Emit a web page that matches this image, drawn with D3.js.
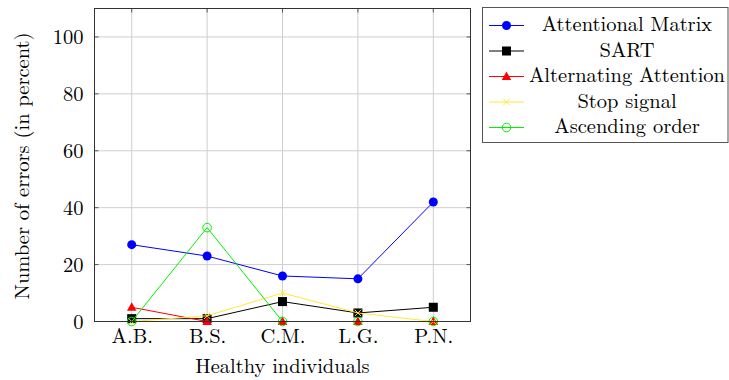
<!DOCTYPE html>
<html>
<head>
<meta charset="utf-8">
<script src="https://cdn.jsdelivr.net/npm/d3@7"></script>
<style>
  html, body { margin: 0; padding: 0; background: #fff; }
  svg { display: block; }
</style>
</head>
<body>
<svg id="chart" width="729" height="380"></svg>
<script>
// Subjects along the x axis
const categories = ["A.B.", "B.S.", "C.M.", "L.G.", "P.N."];

// Error rates (percent) per task
const attentionalMatrix = [27, 23, 16, 15, 42];
const sart = [1, 1, 7, 3, 5];
const alternatingAttention = [5, 0, 0, 0, 0];
const stopSignal = [0, 2, 10, 3, 0];
const ascendingOrder = [0, 33, 0, 0, 0];

const yTicks = [0, 20, 40, 60, 80, 100];

const seriesNames = ["Attentional Matrix", "SART", "Alternating Attention", "Stop signal", "Ascending order"];

const FONT = '"Latin Modern Roman", "Liberation Serif", serif';
const FS = "20.5px";

const series = [
  { name: seriesNames[0], values: attentionalMatrix, color: "#0000ff", marker: "dot" },
  { name: seriesNames[1], values: sart, color: "#000000", marker: "square" },
  { name: seriesNames[2], values: alternatingAttention, color: "#ff0000", marker: "triangle" },
  { name: seriesNames[3], values: stopSignal, color: "#ffe838", marker: "cross" },
  { name: seriesNames[4], values: ascendingOrder, color: "#00f000", marker: "ring" }
];

const svg = d3.select("#chart");
const plot = { left: 94.5, right: 470.5, top: 8.5, bottom: 321.5 };

const x = d3.scalePoint().domain(categories).range([131.7, 433.3]);
const y = d3.scaleLinear().domain([0, 110]).range([plot.bottom, plot.top]);

// grid
const grid = svg.append("g");
grid.selectAll("line.gx").data(categories).enter().append("line")
  .attr("x1", d => x(d)).attr("x2", d => x(d))
  .attr("y1", plot.top).attr("y2", plot.bottom)
  .attr("stroke", "#cfcfcf").attr("stroke-width", 1);
grid.selectAll("line.gy").data(yTicks).enter().append("line")
  .attr("x1", plot.left).attr("x2", plot.right)
  .attr("y1", d => y(d)).attr("y2", d => y(d))
  .attr("stroke", "#cfcfcf").attr("stroke-width", 1);

// inner tick marks on all four sides
const ticks = svg.append("g").attr("stroke", "#555").attr("stroke-width", 1);
yTicks.forEach(t => {
  ticks.append("line").attr("x1", plot.left).attr("x2", plot.left + 4).attr("y1", y(t)).attr("y2", y(t));
  ticks.append("line").attr("x1", plot.right - 4).attr("x2", plot.right).attr("y1", y(t)).attr("y2", y(t));
});
categories.forEach(c => {
  ticks.append("line").attr("x1", x(c)).attr("x2", x(c)).attr("y1", plot.bottom).attr("y2", plot.bottom - 4);
  ticks.append("line").attr("x1", x(c)).attr("x2", x(c)).attr("y1", plot.top).attr("y2", plot.top + 4);
});

// tick labels through d3 axes (axis lines hidden)
const xAxis = svg.append("g").attr("transform", `translate(0,${plot.bottom})`)
  .call(d3.axisBottom(x).tickSize(0).tickPadding(0));
xAxis.select(".domain").remove();
xAxis.selectAll("text").attr("dy", null).attr("y", 21.5)
  .style("font-size", FS).style("font-family", FONT).attr("fill", "#000");

const yAxis = svg.append("g").attr("transform", `translate(${plot.left},0)`)
  .call(d3.axisLeft(y).tickValues(yTicks).tickSize(0).tickPadding(11));
yAxis.select(".domain").remove();
yAxis.selectAll("text").attr("dy", "0.34em")
  .style("font-size", FS).style("font-family", FONT).attr("fill", "#000");

svg.append("text").attr("x", (plot.left + plot.right) / 2).attr("y", 373.3)
  .attr("text-anchor", "middle").style("font-size", FS).style("font-family", FONT)
  .text("Healthy individuals");
svg.append("text").attr("transform", `translate(28.5,${(plot.top + plot.bottom) / 2 + 1}) rotate(-90)`)
  .attr("text-anchor", "middle").style("font-size", FS).style("font-family", FONT)
  .text("Number of errors (in percent)");

// markers
function drawMarker(g, type, cx, cy, color) {
  if (type === "dot") {
    g.append("circle").attr("cx", cx).attr("cy", cy).attr("r", 4.5).attr("fill", color);
  } else if (type === "square") {
    g.append("rect").attr("x", cx - 4.5).attr("y", cy - 4.5).attr("width", 9).attr("height", 9).attr("fill", color);
  } else if (type === "triangle") {
    const r = 5;
    g.append("path").attr("d", `M${cx},${cy - r}L${cx + r * 0.95},${cy + r * 0.7}L${cx - r * 0.95},${cy + r * 0.7}Z`).attr("fill", color);
  } else if (type === "cross") {
    const r = 3.3;
    g.append("path").attr("d", `M${cx - r},${cy - r}L${cx + r},${cy + r}M${cx - r},${cy + r}L${cx + r},${cy - r}`)
      .attr("stroke", color).attr("stroke-width", 1).attr("fill", "none");
  } else if (type === "ring") {
    g.append("circle").attr("cx", cx).attr("cy", cy).attr("r", 4.3).attr("fill", "none")
      .attr("stroke", color).attr("stroke-width", 1);
  }
}

const line = d3.line().x((d, i) => x(categories[i])).y(d => y(d));

// each series: line then its markers, in order
const data = svg.append("g");
series.forEach(s => {
  const g = data.append("g");
  g.append("path").datum(s.values).attr("d", line)
    .attr("fill", "none").attr("stroke", s.color).attr("stroke-width", 1);
  s.values.forEach((v, i) => drawMarker(g, s.marker, x(categories[i]), y(v), s.color));
});

// frame
svg.append("rect").attr("x", plot.left).attr("y", plot.top)
  .attr("width", plot.right - plot.left).attr("height", plot.bottom - plot.top)
  .attr("fill", "none").attr("stroke", "#333").attr("stroke-width", 1);

// legend
const lg = svg.append("g");
lg.append("rect").attr("x", 482.5).attr("y", 7.5).attr("width", 245.5).attr("height", 135)
  .attr("fill", "#fff").attr("stroke", "#555").attr("stroke-width", 1);
const rowY = d3.scaleLinear().domain([0, 4]).range([25.5, 127.5]);
series.forEach((s, i) => {
  const cy = rowY(i);
  lg.append("line").attr("x1", 489).attr("x2", 524).attr("y1", cy).attr("y2", cy)
    .attr("stroke", s.color).attr("stroke-width", 1);
  drawMarker(lg, s.marker, 506.5, cy, s.color);
  lg.append("text").attr("x", 627).attr("y", cy + 5.6).attr("text-anchor", "middle")
    .style("font-size", FS).style("font-family", FONT).text(s.name);
});
</script>
</body>
</html>
